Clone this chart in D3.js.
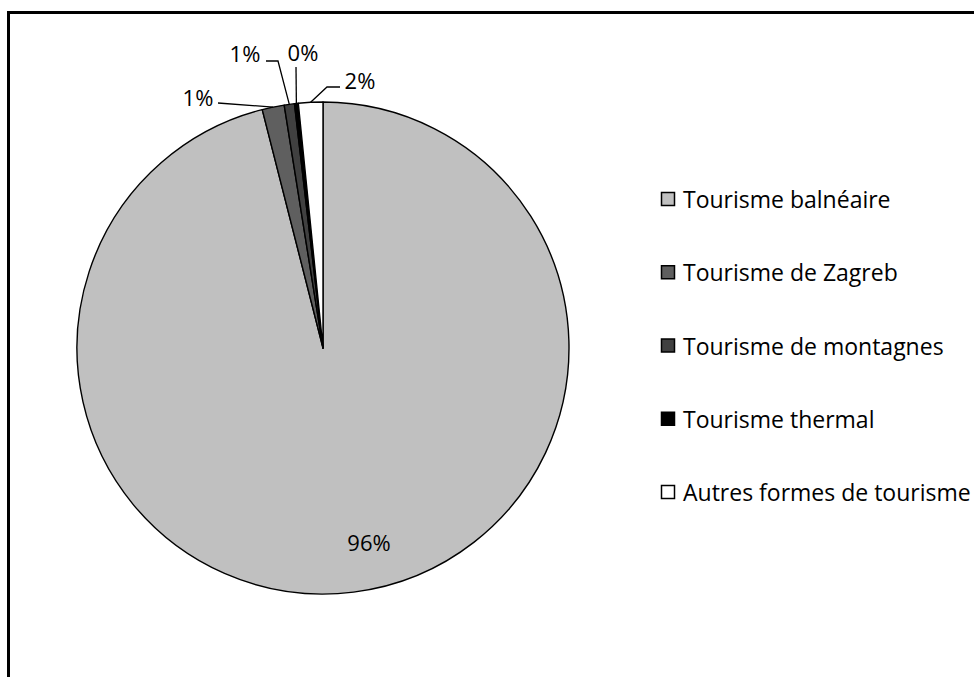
<!DOCTYPE html>
<html>
<head>
<meta charset="utf-8">
<script src="https://cdn.jsdelivr.net/npm/d3@7"></script>
<style>
  body { margin: 0; background: #fff; }
  svg { display: block; font-family: "Open Sans", sans-serif; }
</style>
</head>
<body>
<div id="viz"></div>
<script>
// data (share of tourism types, %)
const categories = ["Tourisme balnéaire", "Tourisme de Zagreb", "Tourisme de montagnes", "Tourisme thermal", "Autres formes de tourisme"];
const values = [96.0, 1.45, 0.67, 0.25, 1.6];
const colors = ["#c0c0c0", "#5f5f5f", "#404040", "#000000", "#ffffff"];

document.addEventListener("DOMContentLoaded", () => {
    const width = 974;
    const height = 677;

    const svg = d3.select("#viz").append("svg")
        .attr("width", width)
        .attr("height", height);

    // chart frame (right and bottom sides fall outside the picture)
    svg.append("rect")
        .attr("x", 8.5).attr("y", 12.5)
        .attr("width", 1000).attr("height", 700)
        .attr("fill", "none")
        .attr("stroke", "#000")
        .attr("stroke-width", 3);

    const cx = 323, cy = 348, r = 246;
    const g = svg.append("g").attr("transform", `translate(${cx},${cy})`);

    const pie = d3.pie().sort(null).value(d => d.value);
    const data = pie(categories.map((c, i) => ({ name: c, value: values[i], color: colors[i] })));
    const total = d3.sum(values);

    const arc = d3.arc().innerRadius(0).outerRadius(r);
    const edge = d3.arc().innerRadius(r).outerRadius(r);

    g.selectAll("path.slice")
        .data(data)
        .enter()
        .append("path")
        .attr("class", "slice")
        .attr("d", arc)
        .attr("fill", d => d.data.color)
        .attr("stroke", "#000")
        .attr("stroke-width", 1.4)
        .attr("stroke-linejoin", "round");

    // label placement (absolute page coords) and leader elbows
    const labelPos = [[369, 542], [198, 97], [245, 53], [303, 52], [360, 80]];
    const leaderStart = [null, [[218, 103]], [[266, 61], [278, 61]], [[296, 67]], [[340, 87], [327, 87]]];

    const fmt = v => Math.round(v / total * 100) + "%";

    data.forEach((d, i) => {
        if (leaderStart[i]) {
            const m = edge.centroid(d);
            const pts = leaderStart[i].concat([[cx + m[0], cy + m[1]]]);
            svg.append("path")
                .attr("d", d3.line()(pts))
                .attr("fill", "none")
                .attr("stroke", "#000")
                .attr("stroke-width", 1.3);
        }
        svg.append("text")
            .attr("x", labelPos[i][0])
            .attr("y", labelPos[i][1])
            .attr("text-anchor", "middle")
            .attr("dominant-baseline", "central")
            .style("font-size", "22px")
            .style("fill", "#000")
            .text(fmt(d.value));
    });

    // legend
    const legendY = d3.scalePoint().domain(categories).range([199, 492]);
    const legend = svg.selectAll("g.leg")
        .data(data)
        .enter()
        .append("g")
        .attr("class", "leg")
        .attr("transform", d => `translate(661,${legendY(d.data.name)})`);

    legend.append("rect")
        .attr("x", 0.5).attr("y", -6.5)
        .attr("width", 13).attr("height", 13)
        .attr("fill", d => d.data.color)
        .attr("stroke", "#000")
        .attr("stroke-width", 1.5);

    legend.append("text")
        .attr("x", 22)
        .attr("y", 0)
        .attr("dominant-baseline", "central")
        .style("font-size", "23px")
        .text(d => d.data.name);
});
</script>
</body>
</html>
